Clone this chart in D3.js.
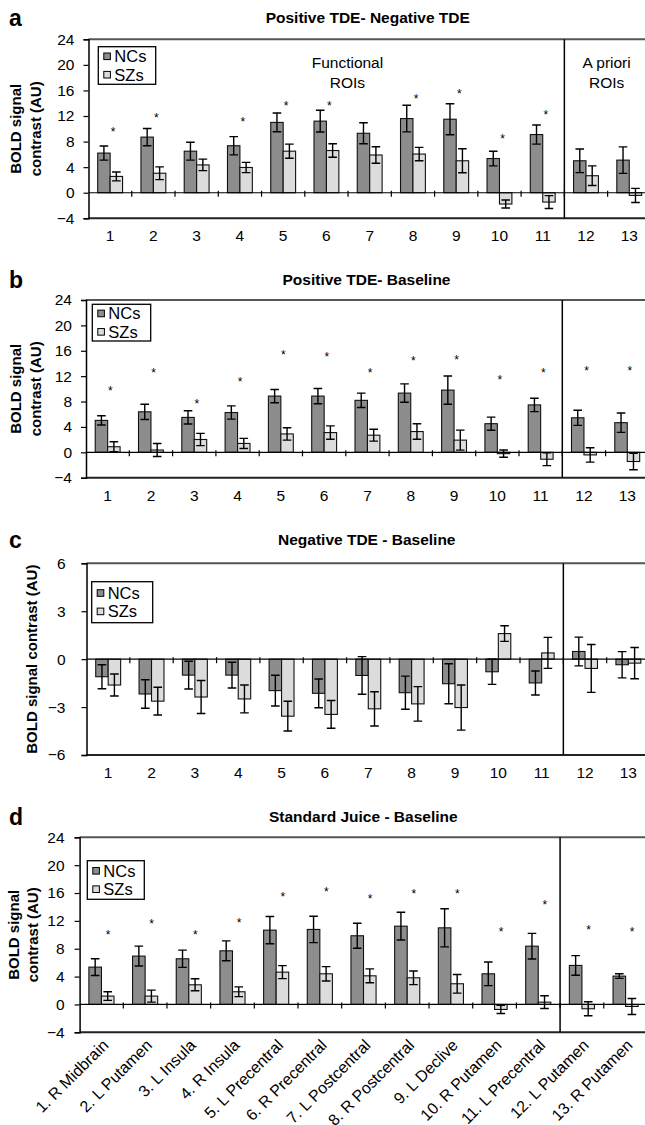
<!DOCTYPE html>
<html><head><meta charset="utf-8">
<script src="https://cdn.jsdelivr.net/npm/d3@7/dist/d3.min.js"></script>
<style>body{margin:0;background:#fff}svg{display:block}text{font-family:"Liberation Sans",Arial,sans-serif;fill:#000}</style>
</head><body>
<svg id="chart" width="645" height="1125"></svg>
<script>
const categories = ["1","2","3","4","5","6","7","8","9","10","11","12","13"];
const regionLabels = ["1. R Midbrain","2. L Putamen","3. L Insula","4. R Insula","5. L Precentral","6. R Precentral","7. L Postcentral","8. R Postcentral","9. L Declive","10. R Putamen","11. L Precentral","12. L Putamen","13. R Putamen"];
const seriesNames = ["NCs","SZs"];
const ticks24 = [-4,0,4,8,12,16,20,24];
const ticks6 = [-6,-3,0,3,6];

// Panel a: Positive TDE- Negative TDE
const aNC    = [6.2, 8.7, 6.5, 7.35, 11.0, 11.2, 9.3, 11.6, 11.5, 5.35, 9.1, 5.0, 5.1];
const aNCerr = [1.1, 1.35, 1.4, 1.43, 1.47, 1.7, 1.64, 2.08, 2.42, 1.15, 1.49, 1.85, 2.08];
const aSZ    = [2.55, 3.05, 4.35, 3.95, 6.5, 6.6, 5.9, 6.05, 5.0, -1.77, -1.46, 2.66, -0.42];
const aSZerr = [0.7, 1.0, 0.9, 0.8, 1.1, 1.05, 1.3, 1.04, 1.88, 0.63, 1.0, 1.54, 1.1];
const aStars = [9.96, 12.2, null, 11.5, 14.1, 14.1, null, 15.07, 15.85, 8.9, 12.56, null, null];

// Panel b: Positive TDE- Baseline
const bNC    = [5.03, 6.38, 5.5, 6.27, 8.86, 8.86, 8.19, 9.33, 9.8, 4.51, 7.47, 5.44, 4.67];
const bNCerr = [0.73, 1.2, 1.04, 1.04, 1.04, 1.2, 1.14, 1.45, 2.23, 1.04, 1.06, 1.19, 1.53];
const bSZ    = [0.88, 0.36, 2.02, 1.4, 2.9, 3.11, 2.7, 3.27, 1.92, -0.21, -1.09, -0.41, -1.45];
const bSZerr = [0.78, 1.03, 0.96, 0.8, 0.98, 1.06, 0.93, 1.22, 1.58, 0.57, 1.0, 1.14, 1.3];
const bStars = [10.06, 13.0, 8.09, 11.6, 15.8, 15.5, 12.9, 14.9, 15.0, 11.9, 13.0, 13.3, 13.3];

// Panel c: Negative TDE - Baseline
const cNC    = [-1.1, -2.18, -1.0, -1.0, -1.97, -2.14, -1.02, -2.1, -1.54, -0.79, -1.49, 0.48, -0.35];
const cNCerr = [0.75, 0.89, 0.87, 0.81, 0.96, 0.9, 1.18, 1.04, 1.25, 0.79, 0.75, 0.9, 0.82];
const cSZ    = [-1.62, -2.63, -2.37, -2.49, -3.57, -3.46, -3.11, -2.8, -3.03, 1.6, 0.39, -0.58, -0.25];
const cSZerr = [0.69, 0.87, 1.03, 0.87, 0.93, 0.87, 1.07, 1.08, 1.41, 0.49, 0.97, 1.5, 0.98];
const cStars = [null,null,null,null,null,null,null,null,null,null,null,null,null];

// Panel d: Standard Juice - Baseline
const dNC    = [5.36, 6.94, 6.56, 7.7, 10.67, 10.77, 9.86, 11.24, 11.0, 4.4, 8.37, 5.6, 4.07];
const dNCerr = [1.2, 1.43, 1.24, 1.43, 1.96, 1.89, 1.8, 1.99, 2.73, 1.7, 1.84, 1.41, 0.33];
const dSZ    = [1.2, 1.2, 2.82, 1.82, 4.64, 4.4, 4.11, 3.83, 2.97, -0.72, 0.33, -0.62, -0.29];
const dSZerr = [0.62, 0.86, 0.86, 0.7, 0.93, 1.03, 1.0, 0.98, 1.34, 0.58, 0.91, 1.0, 1.15];
const dStars = [10.38, 11.96, 10.38, 12.15, 15.79, 16.5, 15.55, 16.27, 16.27, 10.81, 14.69, 11.05, 10.81];

const NC_FILL = "#8d8d8d", SZ_FILL = "#dcdcdc";
const svg = d3.select("#chart");

const panels = [
  {letter:"a", title:"Positive TDE- Negative TDE", nc:aNC, ncE:aNCerr, sz:aSZ, szE:aSZerr, stars:aStars,
   x0:88.5, band:43.26, top:39.3, bottom:218.3, domain:[-4,24], ticks:ticks24, titleY:18, tickPad:9,
   legend:{x:98.3,y:46.7,w:57.4,h:37.6}, labels:categories, labelY:235, starOff:0.57,
   ytitle:[{t:"BOLD signal",x:16},{t:"contrast (AU)",x:36}], roiText:true},
  {letter:"b", title:"Positive TDE- Baseline", nc:bNC, ncE:bNCerr, sz:bSZ, szE:bSZerr, stars:bStars,
   x0:86, band:43.3, top:300, bottom:477.7, domain:[-4,24], ticks:ticks24, titleY:280, tickPad:9,
   legend:{x:92.3,y:304.3,w:58.4,h:36.7}, labels:categories, labelY:495, starOff:0.56,
   ytitle:[{t:"BOLD signal",x:16},{t:"contrast (AU)",x:36}]},
  {letter:"c", title:"Negative TDE - Baseline", nc:cNC, ncE:cNCerr, sz:cSZ, szE:cSZerr, stars:cStars,
   x0:86.5, band:43.35, top:563.3, bottom:755, domain:[-6,6], ticks:ticks6, titleY:540, tickPad:16,
   legend:{x:91.7,y:581.7,w:61,h:41}, labels:categories, labelY:772.5, starOff:0.56,
   ytitle:[{t:"BOLD signal contrast (AU)",x:32}]},
  {letter:"d", title:"Standard Juice - Baseline", nc:dNC, ncE:dNCerr, sz:dSZ, szE:dSZerr, stars:dStars,
   x0:79.6, band:43.68, top:837.3, bottom:1032.3, domain:[-4,24], ticks:ticks24, titleY:817, tickPad:10,
   legend:{x:87.3,y:860.7,w:57,h:38.6}, labels:regionLabels, rotated:true, starOff:0.65,
   ytitle:[{t:"BOLD signal",x:14},{t:"contrast (AU)",x:33}]}
];

panels.forEach(p => {
  const g = svg.append("g");
  const x = d3.scaleBand().domain(categories).range([p.x0, p.x0 + p.band*categories.length]).paddingInner(0).paddingOuter(0);
  const xs = d3.scaleBand().domain(seriesNames).range([0, x.bandwidth()]).paddingInner(0).paddingOuter(0.74);
  const y = d3.scaleLinear().domain(p.domain).range([p.bottom, p.top]);
  const right = p.x0 + p.band*categories.length;

  // panel letter and title
  g.append("text").attr("x", 9).attr("y", p.titleY + 8).attr("font-size", 23).attr("font-weight", "bold").text(p.letter);
  g.append("text").attr("x", (p.x0 + 645)/2 + 1).attr("y", p.titleY).attr("dy", "0.35em")
    .attr("text-anchor", "middle").attr("font-size", 15.5).attr("font-weight", "bold").text(p.title);

  // frame top and bottom
  g.append("line").attr("x1", p.x0).attr("x2", right).attr("y1", p.top).attr("y2", p.top)
    .attr("stroke", "#555").attr("stroke-width", 2);
  g.append("line").attr("x1", p.x0).attr("x2", right).attr("y1", p.bottom).attr("y2", p.bottom)
    .attr("stroke", "#222").attr("stroke-width", 2);

  // y axis
  const yAxis = d3.axisLeft(y).tickValues(p.ticks).tickSize(5).tickPadding(p.tickPad).tickFormat(d3.format("d"));
  const ya = g.append("g").attr("transform", `translate(${p.x0},0)`).call(yAxis);
  ya.select(".domain").attr("stroke", "#000").attr("stroke-width", 1.5);
  ya.selectAll(".tick line").attr("stroke", "#000").attr("stroke-width", 1.2);
  ya.selectAll(".tick text").attr("font-size", 15.5).attr("font-family", '"Liberation Sans",Arial,sans-serif').attr("fill", "#000");

  // y title
  const ymid = (p.top + p.bottom)/2;
  p.ytitle.forEach(t => {
    g.append("text").attr("transform", `translate(${t.x},${ymid}) rotate(-90)`)
      .attr("text-anchor", "middle").attr("dy", "0.35em").attr("font-size", 15).attr("font-weight", "bold").text(t.t);
  });

  // divider between functional and a priori ROIs
  const divX = x("12");
  g.append("line").attr("x1", divX).attr("x2", divX).attr("y1", p.top).attr("y2", p.bottom)
    .attr("stroke", "#000").attr("stroke-width", 1.5);

  // bars
  const data = categories.map((c, i) => ({c, i, vals:[{s:"NCs", v:p.nc[i], e:p.ncE[i]}, {s:"SZs", v:p.sz[i], e:p.szE[i]}]}));
  const grp = g.selectAll(".cat").data(data).enter().append("g").attr("transform", d => `translate(${x(d.c)},0)`);
  grp.selectAll("rect").data(d => d.vals).enter().append("rect")
    .attr("x", d => xs(d.s)).attr("width", xs.bandwidth())
    .attr("y", d => y(Math.max(0, d.v))).attr("height", d => Math.abs(y(d.v) - y(0)))
    .attr("fill", d => d.s === "NCs" ? NC_FILL : SZ_FILL).attr("stroke", "#111").attr("stroke-width", 1.1);

  // zero line and ticks at category boundaries
  g.append("line").attr("x1", p.x0).attr("x2", right).attr("y1", y(0)).attr("y2", y(0)).attr("stroke", "#000").attr("stroke-width", 1.2);
  g.selectAll(".ztick").data(categories.slice(1)).enter().append("line")
    .attr("x1", d => x(d)).attr("x2", d => x(d)).attr("y1", y(0) - 2).attr("y2", y(0) + 4)
    .attr("stroke", "#000").attr("stroke-width", 1.2);

  // error bars
  const cap = 4.3;
  grp.selectAll(".err").data(d => d.vals).enter().append("path")
    .attr("d", d => {
      const cx = xs(d.s) + xs.bandwidth()/2, y1 = y(d.v + d.e), y2 = y(d.v - d.e);
      return `M${cx},${y1}V${y2}M${cx-cap},${y1}H${cx+cap}M${cx-cap},${y2}H${cx+cap}`;
    }).attr("fill", "none").attr("stroke", "#000").attr("stroke-width", 1.4);

  // significance stars
  g.selectAll(".star").data(data.filter(d => p.stars[d.i] != null)).enter().append("text")
    .attr("x", d => x(d.c) + x.bandwidth()*p.starOff).attr("y", d => y(p.stars[d.i])).attr("dy", "0.58em")
    .attr("text-anchor", "middle").attr("font-size", 12).attr("fill", "#000").text("*");

  // legend
  const L = p.legend;
  const lg = g.append("g");
  lg.append("rect").attr("x", L.x).attr("y", L.y).attr("width", L.w).attr("height", L.h)
    .attr("fill", "#fff").attr("stroke", "#000").attr("stroke-width", 1.3);
  seriesNames.forEach((s, k) => {
    const cy = L.y + L.h/2 + (k === 0 ? -9.2 : 9.2);
    lg.append("rect").attr("x", L.x + 5.5).attr("y", cy - 3.3).attr("width", 6.6).attr("height", 6.6)
      .attr("fill", k === 0 ? NC_FILL : SZ_FILL).attr("stroke", "#000").attr("stroke-width", 1);
    lg.append("text").attr("x", L.x + 16).attr("y", cy).attr("dy", "0.36em").attr("font-size", 16.5).text(s);
  });

  // ROI group captions
  if (p.roiText) {
    const fx = (p.x0 + x("12"))/2 + 21;
    const ax = x("12") + x.bandwidth();
    [["Functional", fx, 62.3], ["ROIs", fx, 82.7], ["A priori", ax - 1, 62.3], ["ROIs", ax - 1, 82.7]].forEach(t => {
      g.append("text").attr("x", t[1]).attr("y", t[2]).attr("dy", "0.36em").attr("text-anchor", "middle")
        .attr("font-size", 15.5).text(t[0]);
    });
  }

  // x labels
  if (p.rotated) {
    g.selectAll(".xl").data(p.labels).enter().append("text")
      .attr("transform", (d, i) => `translate(${x(categories[i]) + x.bandwidth()/2 + 8},${p.bottom + 14}) rotate(-45)`)
      .attr("text-anchor", "end").attr("font-size", 16).text(d => d);
  } else {
    g.selectAll(".xl").data(p.labels).enter().append("text")
      .attr("x", (d, i) => x(categories[i]) + x.bandwidth()/2).attr("y", p.labelY).attr("dy", "0.36em")
      .attr("text-anchor", "middle").attr("font-size", 15.5).text(d => d);
  }
});
</script>
</body></html>
